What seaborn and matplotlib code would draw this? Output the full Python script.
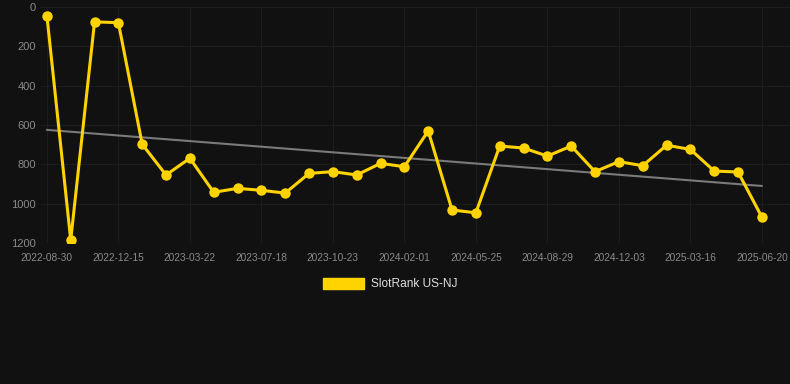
import numpy as np
import pandas as pd
import matplotlib
matplotlib.use("Agg")
import matplotlib.pyplot as plt
import matplotlib.patches as mpatches
import seaborn as sns

# Data (rank, lower is better)
ranks = [44, 1185, 76, 80, 698, 854, 769, 942, 922, 932, 946, 846, 837, 854, 795,
         812, 630, 1032, 1046, 707, 717, 758, 707, 837, 786, 807, 703, 724, 834, 839, 1068]
tick_labels = ["2022-08-30", "2022-12-15", "2023-03-22", "2023-07-18", "2023-10-23",
               "2024-02-01", "2024-05-25", "2024-08-29", "2024-12-03", "2025-03-16",
               "2025-06-20"]
series_name = "SlotRank US-NJ"

BG = "#111111"
YELLOW = "#FFD300"
TEXT = "#8a8a8a"
GRID = "#1d1d1d"

sns.set_theme(style="dark")
plt.rcParams['font.family'] = ['Liberation Sans', 'DejaVu Sans']

df = pd.DataFrame({"idx": np.arange(len(ranks)), "rank": ranks})

fig = plt.figure(figsize=(7.9, 3.84), dpi=100, facecolor=BG)
ax = fig.add_axes([0.0506, 0.367, 0.9494, 0.615])
ax.set_facecolor(BG)

# trend line
sns.regplot(data=df, x="idx", y="rank", scatter=False, ci=None, ax=ax,
            line_kws={"color": "#7a7a7a", "linewidth": 1.5, "zorder": 2})

sns.lineplot(data=df, x="idx", y="rank", ax=ax, color=YELLOW, linewidth=2.2,
             marker="o", markersize=7.5, markeredgewidth=0, zorder=3)

ax.set_xlim(-0.29, 31.18)
ax.set_ylim(1200, 0)
ax.set_yticks(range(0, 1201, 200))
ax.set_xticks(df["idx"][::3])
ax.set_xticklabels(tick_labels)
ax.tick_params(axis="x", labelsize=7.3, colors=TEXT, length=0, pad=7)
ax.tick_params(axis="y", labelsize=8, colors=TEXT, length=0, pad=3)
ax.set_xlabel("")
ax.set_ylabel("")
ax.grid(True, color=GRID, linewidth=0.8)
for s in ax.spines.values():
    s.set_visible(False)

handle = mpatches.Patch(color=YELLOW, label=series_name)
fig.legend(handles=[handle], loc="center", bbox_to_anchor=(0.494, 0.26),
           frameon=False, fontsize=8.6, labelcolor="#dedede",
           handlelength=3.4, handleheight=1.0, handletextpad=0.6)

fig.savefig("out.png", dpi=100, facecolor=BG)
